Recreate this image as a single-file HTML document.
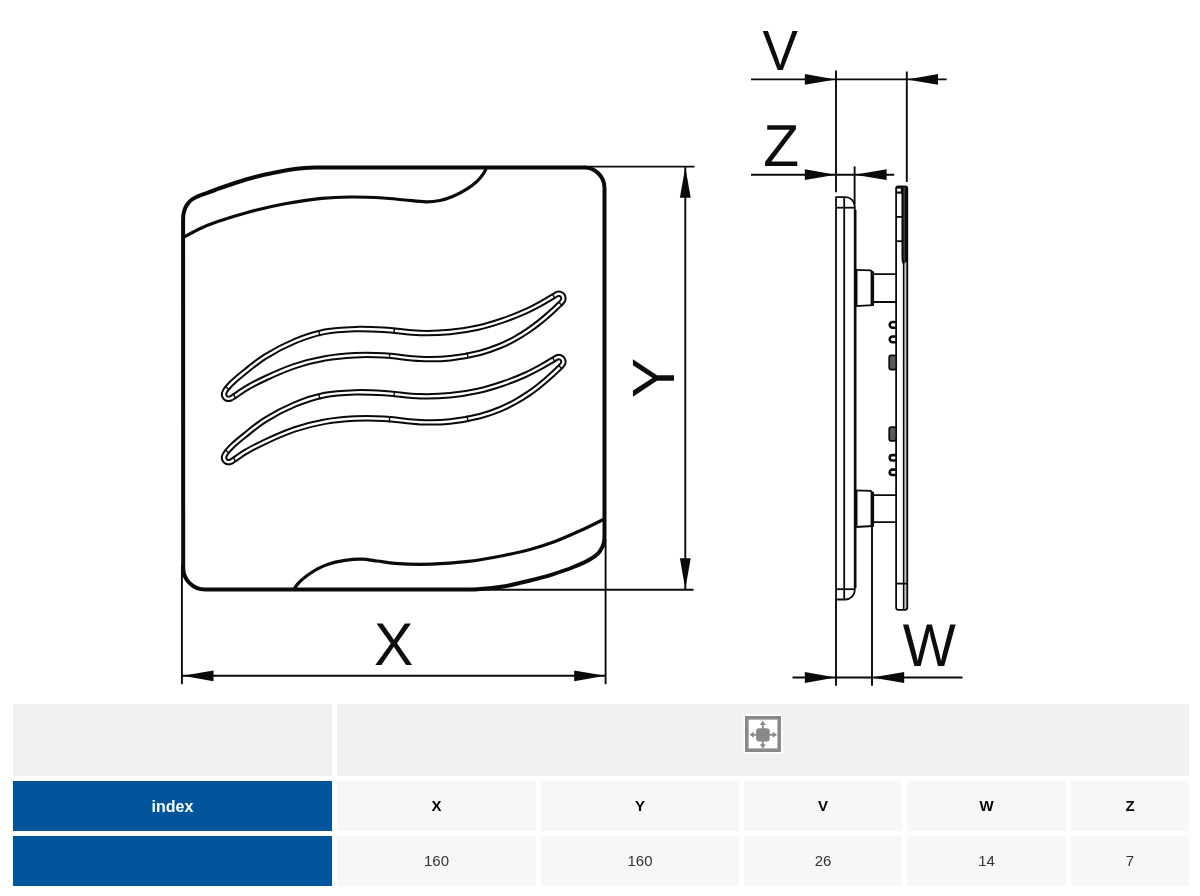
<!DOCTYPE html>
<html><head><meta charset="utf-8"><style>
html,body{margin:0;padding:0;background:#fff;width:1200px;height:896px;overflow:hidden;position:relative;font-family:"Liberation Sans",sans-serif}
.c{position:absolute;display:flex;align-items:center;justify-content:center;will-change:transform}
.ix{color:#fff;font-weight:bold;font-size:16px;position:relative;top:0.5px}
.hd{color:#000;font-weight:bold;font-size:15px;position:relative;top:-1px}
.vl{color:#333;font-size:15px;position:relative;top:-1px}
</style></head><body>
<svg width="1200" height="700" viewBox="0 0 1200 700" style="position:absolute;left:0;top:0">
<g fill="none" stroke="#0a0a0a" stroke-linejoin="round" stroke-linecap="round">
<path d="M183.2 567 L183.1 226 C183.13 223.00 183.06 219.30 183.20 217.00 C183.29 215.56 183.33 214.79 183.60 213.50 C183.94 211.84 184.54 209.62 185.30 207.90 C186.02 206.27 186.91 204.78 188.00 203.40 C189.13 201.97 190.47 200.63 192.00 199.50 C193.62 198.31 195.43 197.44 197.50 196.50 C199.97 195.38 203.05 194.46 205.90 193.40 C208.87 192.30 211.37 191.31 215.00 190.00 C220.36 188.06 228.31 185.17 235.00 183.00 C241.64 180.84 248.30 178.76 255.00 177.00 C261.64 175.26 268.32 173.84 275.00 172.50 C281.65 171.17 288.31 169.83 295.00 169.00 C301.65 168.17 308.33 167.75 315.00 167.50 C321.66 167.25 328.33 167.50 335.00 167.50 L584 167.5 A20.5 20.5 0 0 1 604.5 188 L604.5 536 C604.33 538.00 604.39 540.09 604.00 542.00 C603.63 543.82 603.16 545.44 602.30 547.20 C601.28 549.29 599.86 551.68 598.00 553.60 C595.93 555.74 593.39 557.33 590.20 559.20 C585.77 561.79 579.54 564.54 573.50 567.00 C566.67 569.78 558.58 572.52 551.20 574.80 C544.08 577.00 537.38 578.67 530.00 580.50 C522.03 582.48 513.57 584.76 505.00 586.20 C496.09 587.70 486.22 588.67 477.50 589.20 C469.64 589.68 462.50 589.40 455.00 589.50 L205 589.5 A21.8 21.8 0 0 1 183.2 567.7 Z" stroke-width="4.0"/>
<path d="M183.20 237.50 C188.90 234.50 194.57 231.15 200.30 228.50 C205.83 225.94 210.51 224.09 217.00 221.80 C225.75 218.71 237.40 215.12 248.30 212.20 C259.99 209.07 272.72 206.10 285.00 203.80 C297.19 201.51 310.23 199.52 321.70 198.40 C331.72 197.42 340.18 197.10 350.00 197.00 C360.65 196.90 373.39 197.40 383.30 198.00 C391.31 198.49 397.81 199.36 405.00 200.00 C412.11 200.63 419.89 201.83 426.20 201.80 C431.29 201.78 435.60 201.38 440.00 200.50 C444.18 199.67 447.88 198.49 452.00 196.80 C456.74 194.86 462.37 191.92 466.70 189.20 C470.46 186.84 473.84 184.41 476.70 181.70 C479.29 179.24 481.54 176.37 483.30 173.80 C484.77 171.65 485.63 169.60 486.80 167.50" stroke-width="3.2"/>
<path d="M293.80 589.20 C295.20 587.33 296.42 585.37 298.00 583.60 C299.64 581.76 301.54 580.06 303.50 578.40 C305.53 576.68 307.68 575.08 310.00 573.50 C312.49 571.80 315.23 570.06 318.00 568.60 C320.79 567.13 323.20 565.88 326.70 564.70 C331.62 563.04 339.01 561.31 345.00 560.40 C350.63 559.54 356.16 559.08 361.60 559.20 C366.89 559.31 371.83 560.33 377.20 561.00 C382.94 561.72 387.99 562.85 395.00 563.40 C405.03 564.18 419.48 564.53 431.70 564.20 C443.92 563.87 456.13 562.89 468.30 561.40 C480.56 559.90 493.97 557.39 505.00 555.20 C514.16 553.38 521.71 551.77 530.00 549.50 C538.38 547.21 546.74 544.58 555.00 541.50 C563.41 538.36 571.84 534.51 580.00 530.80 C588.00 527.17 595.67 523.27 603.50 519.50" stroke-width="3.2"/>
<g transform="translate(0 0.0)"><path d="M226.60 388.80 C227.90 387.08 229.73 385.10 232.00 382.90 C235.32 379.69 240.14 375.71 245.00 371.80 C250.89 367.07 257.43 361.48 265.00 356.70 C273.79 351.15 284.81 345.31 295.00 341.10 C304.82 337.04 314.89 333.70 325.00 331.70 C334.89 329.75 345.08 329.41 355.00 329.10 C364.74 328.80 373.82 329.23 384.00 329.80 C395.36 330.44 408.54 332.68 420.00 333.00 C430.45 333.29 440.20 332.93 450.00 332.00 C459.52 331.10 468.99 329.61 478.00 327.60 C486.63 325.67 494.99 323.03 503.00 320.30 C510.63 317.70 518.21 314.76 525.00 311.70 C531.11 308.95 536.84 305.84 542.00 303.00 C546.44 300.55 551.31 297.45 554.20 295.80 C555.78 294.90 556.75 294.01 557.88 293.77 C558.74 293.59 559.57 293.71 560.31 293.98 C561.05 294.25 561.80 294.78 562.30 295.38 C562.80 295.98 563.19 296.81 563.33 297.58 C563.47 298.35 563.42 299.21 563.12 300.01 C562.75 300.98 561.81 301.97 561.00 302.90 C560.12 303.90 559.13 304.71 558.00 305.80 C556.55 307.20 554.82 308.92 553.00 310.60 C550.88 312.55 548.43 314.72 546.00 316.80 C543.44 318.99 540.85 321.19 538.00 323.40 C534.89 325.82 531.60 328.28 528.00 330.70 C524.00 333.39 519.55 336.20 515.00 338.70 C510.24 341.31 505.43 343.76 500.00 346.00 C493.88 348.52 487.42 350.88 480.00 352.80 C471.09 355.10 460.04 357.19 450.00 358.20 C440.04 359.21 430.44 359.28 420.00 358.90 C408.53 358.48 395.36 355.99 384.00 355.40 C373.82 354.87 364.73 354.72 355.00 355.20 C345.07 355.69 334.94 356.62 325.00 358.40 C314.94 360.20 304.88 362.71 295.00 366.00 C284.87 369.37 273.91 374.32 265.00 378.50 C257.57 381.99 250.61 385.64 245.00 389.00 C240.68 391.58 236.55 394.83 233.90 396.50 C232.47 397.40 231.59 398.08 230.54 398.47 C229.72 398.77 228.96 398.95 228.20 398.88 C227.44 398.81 226.59 398.51 225.96 398.07 C225.33 397.63 224.75 396.94 224.43 396.24 C224.11 395.55 223.97 394.63 224.02 393.90 C224.06 393.23 224.30 392.69 224.62 392.00 C225.06 391.05 225.71 389.98 226.60 388.80 Z" stroke-width="6.4"/><path d="M226.60 388.80 C227.90 387.08 229.73 385.10 232.00 382.90 C235.32 379.69 240.14 375.71 245.00 371.80 C250.89 367.07 257.43 361.48 265.00 356.70 C273.79 351.15 284.81 345.31 295.00 341.10 C304.82 337.04 314.89 333.70 325.00 331.70 C334.89 329.75 345.08 329.41 355.00 329.10 C364.74 328.80 373.82 329.23 384.00 329.80 C395.36 330.44 408.54 332.68 420.00 333.00 C430.45 333.29 440.20 332.93 450.00 332.00 C459.52 331.10 468.99 329.61 478.00 327.60 C486.63 325.67 494.99 323.03 503.00 320.30 C510.63 317.70 518.21 314.76 525.00 311.70 C531.11 308.95 536.84 305.84 542.00 303.00 C546.44 300.55 551.31 297.45 554.20 295.80 C555.78 294.90 556.75 294.01 557.88 293.77 C558.74 293.59 559.57 293.71 560.31 293.98 C561.05 294.25 561.80 294.78 562.30 295.38 C562.80 295.98 563.19 296.81 563.33 297.58 C563.47 298.35 563.42 299.21 563.12 300.01 C562.75 300.98 561.81 301.97 561.00 302.90 C560.12 303.90 559.13 304.71 558.00 305.80 C556.55 307.20 554.82 308.92 553.00 310.60 C550.88 312.55 548.43 314.72 546.00 316.80 C543.44 318.99 540.85 321.19 538.00 323.40 C534.89 325.82 531.60 328.28 528.00 330.70 C524.00 333.39 519.55 336.20 515.00 338.70 C510.24 341.31 505.43 343.76 500.00 346.00 C493.88 348.52 487.42 350.88 480.00 352.80 C471.09 355.10 460.04 357.19 450.00 358.20 C440.04 359.21 430.44 359.28 420.00 358.90 C408.53 358.48 395.36 355.99 384.00 355.40 C373.82 354.87 364.73 354.72 355.00 355.20 C345.07 355.69 334.94 356.62 325.00 358.40 C314.94 360.20 304.88 362.71 295.00 366.00 C284.87 369.37 273.91 374.32 265.00 378.50 C257.57 381.99 250.61 385.64 245.00 389.00 C240.68 391.58 236.55 394.83 233.90 396.50 C232.47 397.40 231.59 398.08 230.54 398.47 C229.72 398.77 228.96 398.95 228.20 398.88 C227.44 398.81 226.59 398.51 225.96 398.07 C225.33 397.63 224.75 396.94 224.43 396.24 C224.11 395.55 223.97 394.63 224.02 393.90 C224.06 393.23 224.30 392.69 224.62 392.00 C225.06 391.05 225.71 389.98 226.60 388.80 Z" stroke="#fff" stroke-width="2.4"/></g>
<g transform="translate(0 63.3)"><path d="M226.60 388.80 C227.90 387.08 229.73 385.10 232.00 382.90 C235.32 379.69 240.14 375.71 245.00 371.80 C250.89 367.07 257.43 361.48 265.00 356.70 C273.79 351.15 284.81 345.31 295.00 341.10 C304.82 337.04 314.89 333.70 325.00 331.70 C334.89 329.75 345.08 329.41 355.00 329.10 C364.74 328.80 373.82 329.23 384.00 329.80 C395.36 330.44 408.54 332.68 420.00 333.00 C430.45 333.29 440.20 332.93 450.00 332.00 C459.52 331.10 468.99 329.61 478.00 327.60 C486.63 325.67 494.99 323.03 503.00 320.30 C510.63 317.70 518.21 314.76 525.00 311.70 C531.11 308.95 536.84 305.84 542.00 303.00 C546.44 300.55 551.31 297.45 554.20 295.80 C555.78 294.90 556.75 294.01 557.88 293.77 C558.74 293.59 559.57 293.71 560.31 293.98 C561.05 294.25 561.80 294.78 562.30 295.38 C562.80 295.98 563.19 296.81 563.33 297.58 C563.47 298.35 563.42 299.21 563.12 300.01 C562.75 300.98 561.81 301.97 561.00 302.90 C560.12 303.90 559.13 304.71 558.00 305.80 C556.55 307.20 554.82 308.92 553.00 310.60 C550.88 312.55 548.43 314.72 546.00 316.80 C543.44 318.99 540.85 321.19 538.00 323.40 C534.89 325.82 531.60 328.28 528.00 330.70 C524.00 333.39 519.55 336.20 515.00 338.70 C510.24 341.31 505.43 343.76 500.00 346.00 C493.88 348.52 487.42 350.88 480.00 352.80 C471.09 355.10 460.04 357.19 450.00 358.20 C440.04 359.21 430.44 359.28 420.00 358.90 C408.53 358.48 395.36 355.99 384.00 355.40 C373.82 354.87 364.73 354.72 355.00 355.20 C345.07 355.69 334.94 356.62 325.00 358.40 C314.94 360.20 304.88 362.71 295.00 366.00 C284.87 369.37 273.91 374.32 265.00 378.50 C257.57 381.99 250.61 385.64 245.00 389.00 C240.68 391.58 236.55 394.83 233.90 396.50 C232.47 397.40 231.59 398.08 230.54 398.47 C229.72 398.77 228.96 398.95 228.20 398.88 C227.44 398.81 226.59 398.51 225.96 398.07 C225.33 397.63 224.75 396.94 224.43 396.24 C224.11 395.55 223.97 394.63 224.02 393.90 C224.06 393.23 224.30 392.69 224.62 392.00 C225.06 391.05 225.71 389.98 226.60 388.80 Z" stroke-width="6.4"/><path d="M226.60 388.80 C227.90 387.08 229.73 385.10 232.00 382.90 C235.32 379.69 240.14 375.71 245.00 371.80 C250.89 367.07 257.43 361.48 265.00 356.70 C273.79 351.15 284.81 345.31 295.00 341.10 C304.82 337.04 314.89 333.70 325.00 331.70 C334.89 329.75 345.08 329.41 355.00 329.10 C364.74 328.80 373.82 329.23 384.00 329.80 C395.36 330.44 408.54 332.68 420.00 333.00 C430.45 333.29 440.20 332.93 450.00 332.00 C459.52 331.10 468.99 329.61 478.00 327.60 C486.63 325.67 494.99 323.03 503.00 320.30 C510.63 317.70 518.21 314.76 525.00 311.70 C531.11 308.95 536.84 305.84 542.00 303.00 C546.44 300.55 551.31 297.45 554.20 295.80 C555.78 294.90 556.75 294.01 557.88 293.77 C558.74 293.59 559.57 293.71 560.31 293.98 C561.05 294.25 561.80 294.78 562.30 295.38 C562.80 295.98 563.19 296.81 563.33 297.58 C563.47 298.35 563.42 299.21 563.12 300.01 C562.75 300.98 561.81 301.97 561.00 302.90 C560.12 303.90 559.13 304.71 558.00 305.80 C556.55 307.20 554.82 308.92 553.00 310.60 C550.88 312.55 548.43 314.72 546.00 316.80 C543.44 318.99 540.85 321.19 538.00 323.40 C534.89 325.82 531.60 328.28 528.00 330.70 C524.00 333.39 519.55 336.20 515.00 338.70 C510.24 341.31 505.43 343.76 500.00 346.00 C493.88 348.52 487.42 350.88 480.00 352.80 C471.09 355.10 460.04 357.19 450.00 358.20 C440.04 359.21 430.44 359.28 420.00 358.90 C408.53 358.48 395.36 355.99 384.00 355.40 C373.82 354.87 364.73 354.72 355.00 355.20 C345.07 355.69 334.94 356.62 325.00 358.40 C314.94 360.20 304.88 362.71 295.00 366.00 C284.87 369.37 273.91 374.32 265.00 378.50 C257.57 381.99 250.61 385.64 245.00 389.00 C240.68 391.58 236.55 394.83 233.90 396.50 C232.47 397.40 231.59 398.08 230.54 398.47 C229.72 398.77 228.96 398.95 228.20 398.88 C227.44 398.81 226.59 398.51 225.96 398.07 C225.33 397.63 224.75 396.94 224.43 396.24 C224.11 395.55 223.97 394.63 224.02 393.90 C224.06 393.23 224.30 392.69 224.62 392.00 C225.06 391.05 225.71 389.98 226.60 388.80 Z" stroke="#fff" stroke-width="2.4"/></g>
</g>
<g stroke="#0a0a0a" stroke-width="1.4"><line x1="320.27" y1="336.22" x2="318.53" y2="330.69"/><line x1="393.94" y1="333.60" x2="394.46" y2="327.82"/><line x1="389.78" y1="353.05" x2="389.22" y2="358.82"/><line x1="466.99" y1="352.20" x2="468.01" y2="357.90"/><line x1="229.34" y1="390.10" x2="225.06" y2="386.19"/><line x1="555.07" y1="298.65" x2="552.13" y2="293.66"/><line x1="558.18" y1="301.59" x2="562.22" y2="305.76"/><line x1="232.88" y1="393.69" x2="236.12" y2="398.50"/><line x1="320.27" y1="399.52" x2="318.53" y2="393.99"/><line x1="393.94" y1="396.90" x2="394.46" y2="391.12"/><line x1="389.78" y1="416.35" x2="389.22" y2="422.12"/><line x1="466.99" y1="415.50" x2="468.01" y2="421.20"/><line x1="229.34" y1="453.40" x2="225.06" y2="449.49"/><line x1="555.07" y1="361.95" x2="552.13" y2="356.96"/><line x1="558.18" y1="364.89" x2="562.22" y2="369.06"/><line x1="232.88" y1="456.99" x2="236.12" y2="461.80"/></g>
<g fill="none" stroke="#0a0a0a" stroke-width="1.9">
<line x1="182.0" y1="675.8" x2="605.6" y2="675.8"/>
<line x1="181.9" y1="565.0" x2="181.9" y2="684.2"/>
<line x1="605.6" y1="539.0" x2="605.6" y2="684.2"/>
<line x1="685.3" y1="167.0" x2="685.3" y2="589.5"/>
<line x1="584.0" y1="166.6" x2="694.5" y2="166.6"/>
<line x1="470.0" y1="589.8" x2="693.5" y2="589.8"/>
<line x1="751.0" y1="79.4" x2="946.7" y2="79.4"/>
<line x1="836.0" y1="70.5" x2="836.0" y2="192.3"/>
<line x1="906.8" y1="71.5" x2="906.8" y2="182.0"/>
<line x1="751.0" y1="174.7" x2="894.2" y2="174.7"/>
<line x1="854.6" y1="166.4" x2="854.6" y2="204.0"/>
<line x1="792.5" y1="677.5" x2="962.5" y2="677.5"/>
<line x1="836.0" y1="599.0" x2="836.0" y2="685.8"/>
<line x1="872.0" y1="526.0" x2="872.0" y2="685.8"/>
</g>
<g fill="#0a0a0a">
<polygon points="182.50,675.80 213.50,670.40 213.50,681.20"/>
<polygon points="605.20,675.80 574.20,681.20 574.20,670.40"/>
<polygon points="685.30,166.80 690.70,197.80 679.90,197.80"/>
<polygon points="685.30,589.20 679.90,558.20 690.70,558.20"/>
<polygon points="835.80,79.40 804.80,84.80 804.80,74.00"/>
<polygon points="907.00,79.40 938.00,74.00 938.00,84.80"/>
<polygon points="835.80,174.70 804.80,180.10 804.80,169.30"/>
<polygon points="854.60,174.70 886.60,169.30 886.60,180.10"/>
<polygon points="835.80,677.50 804.80,682.90 804.80,672.10"/>
<polygon points="871.70,677.50 904.20,672.10 904.20,682.90"/>
</g>
<g fill="none" stroke="#0a0a0a" stroke-width="1.8" stroke-linejoin="round">
<path d="M836 197.2 L845.5 197.2 A9.3 9.3 0 0 1 854.8 206.5 L854.8 590 A9.5 9.5 0 0 1 845.3 599.5 L836 599.5 Z"/>
<line x1="844.2" y1="197.2" x2="844.2" y2="599.5"/>
<line x1="836" y1="207.7" x2="854.8" y2="207.7"/>
<line x1="836" y1="589.2" x2="854.8" y2="589.2"/>
<line x1="855.2" y1="210" x2="855.2" y2="588" stroke-width="2.6"/>
<path d="M855 269.8 L870.6 270.3 L873.2 272.8 L873.2 305.1 L855 306.1"/>
<line x1="872.2" y1="271.3" x2="872.2" y2="305.1" stroke-width="3.2"/>
<line x1="855.9" y1="270.3" x2="855.9" y2="306.1" stroke-width="3.2"/>
<path d="M873.5 274.2 L896 274.2 M873.5 302.0 L896 302.0"/>
<path d="M855 490.3 L870.6 490.8 L873.2 493.3 L873.2 526.0 L855 527.0"/>
<line x1="872.2" y1="491.8" x2="872.2" y2="526.0" stroke-width="3.2"/>
<line x1="855.9" y1="490.8" x2="855.9" y2="527.0" stroke-width="3.2"/>
<path d="M873.5 495.1 L896 495.1 M873.5 522.2 L896 522.2"/>
<rect x="903.3" y="262" width="3.9" height="347" fill="#c4c4c4" stroke="none"/>
<rect x="896.1" y="186.4" width="11.2" height="423.4" rx="2.2"/>
<rect x="901.7" y="187" width="5.3" height="75.5" fill="#3a3a3a" stroke="none"/>
<path d="M902.5 187 L902.5 258 L903.6 264" stroke-width="1.8"/>
<line x1="906.3" y1="187" x2="906.3" y2="262" stroke-width="2.4"/>
<rect x="900.9" y="187" width="1.2" height="6" fill="#0a0a0a" stroke="none"/>
<line x1="903.6" y1="262" x2="903.6" y2="609" stroke-width="1.5"/>
<line x1="896" y1="192.6" x2="902" y2="192.6" stroke-width="2.2"/>
<path d="M896 187.5 L902 187.5" stroke-width="2.2"/>
<line x1="896" y1="216.9" x2="902" y2="216.9"/>
<line x1="896" y1="241.2" x2="902" y2="241.2"/>
<line x1="896" y1="583.6" x2="907" y2="583.6"/>
<path d="M896 322.00 L892.55 322.00 A2.85 2.85 0 0 0 892.55 327.70 L896 327.70" stroke-width="2.6"/>
<path d="M896 336.50 L892.55 336.50 A2.85 2.85 0 0 0 892.55 342.20 L896 342.20" stroke-width="2.6"/>
<path d="M896 455.10 L892.40 455.10 A2.70 2.70 0 0 0 892.40 460.50 L896 460.50" stroke-width="2.6"/>
<path d="M896 469.60 L892.40 469.60 A2.70 2.70 0 0 0 892.40 475.00 L896 475.00" stroke-width="2.6"/>
<rect x="889.2" y="355.4" width="7" height="14.2" rx="2" fill="#5a5a5a" stroke-width="1.7"/>
<rect x="889.2" y="427.2" width="7" height="13.6" rx="2" fill="#5a5a5a" stroke-width="1.7"/>
</g>
<g font-family="Liberation Sans, sans-serif" fill="#0d0d0d" text-rendering="geometricPrecision">
<text font-size="60.3" transform="translate(374.04 664.6) scale(0.979 1)">X</text>
<text font-size="56.8" transform="translate(762.55 70.1) scale(0.935 1)">V</text>
<text font-size="59.3" transform="translate(763.22 165.9) scale(0.99 1)">Z</text>
<text font-size="60.5" transform="translate(902.72 666.2) scale(0.93 1)">W</text>
<text font-size="59.7" transform="translate(674.1 398.0) rotate(-90) scale(1.008 1)">Y</text>
</g>
</svg>
<div class="c" style="left:13px;top:704px;width:319px;height:72px;background:#f1f1f1;"></div>
<div class="c" style="left:337px;top:704px;width:852px;height:72px;background:#f1f1f1;"><svg width="40" height="40" viewBox="-1.5 -1.5 40 40" style="position:absolute;left:405.7px;top:10.100000000000023px"><rect x="-1.0" y="-1.0" width="39" height="39" fill="#fff"/><rect x="2.3" y="2.3" width="32.4" height="32.4" fill="none" stroke="#898989" stroke-width="3.6"/><rect x="11.6" y="12.7" width="13.6" height="13.4" rx="3" fill="#898989"/><g stroke="#898989" stroke-width="1.8"><line x1="18.3" y1="7" x2="18.3" y2="31"/><line x1="7" y1="19.3" x2="30.5" y2="19.3"/></g><g fill="#898989"><polygon points="18.3,5.2 15.3,9.6 21.3,9.6"/><polygon points="18.3,33.2 15.3,28.8 21.3,28.8"/><polygon points="5.0,19.3 9.4,16.3 9.4,22.3"/><polygon points="32.6,19.3 28.2,16.3 28.2,22.3"/></g></svg></div>
<div class="c" style="left:13px;top:781px;width:319px;height:50px;background:#02559b;"><span class="ix">index</span></div>
<div class="c" style="left:337px;top:781px;width:199px;height:50px;background:#f7f7f7;"><span class="hd">X</span></div>
<div class="c" style="left:337px;top:836px;width:199px;height:50px;background:#f7f7f7;"><span class="vl">160</span></div>
<div class="c" style="left:541px;top:781px;width:198px;height:50px;background:#f7f7f7;"><span class="hd">Y</span></div>
<div class="c" style="left:541px;top:836px;width:198px;height:50px;background:#f7f7f7;"><span class="vl">160</span></div>
<div class="c" style="left:744px;top:781px;width:158px;height:50px;background:#f7f7f7;"><span class="hd">V</span></div>
<div class="c" style="left:744px;top:836px;width:158px;height:50px;background:#f7f7f7;"><span class="vl">26</span></div>
<div class="c" style="left:907px;top:781px;width:159px;height:50px;background:#f7f7f7;"><span class="hd">W</span></div>
<div class="c" style="left:907px;top:836px;width:159px;height:50px;background:#f7f7f7;"><span class="vl">14</span></div>
<div class="c" style="left:1071px;top:781px;width:118px;height:50px;background:#f7f7f7;"><span class="hd">Z</span></div>
<div class="c" style="left:1071px;top:836px;width:118px;height:50px;background:#f7f7f7;"><span class="vl">7</span></div>
<div class="c" style="left:13px;top:836px;width:319px;height:50px;background:#02559b;"></div>
</body></html>
